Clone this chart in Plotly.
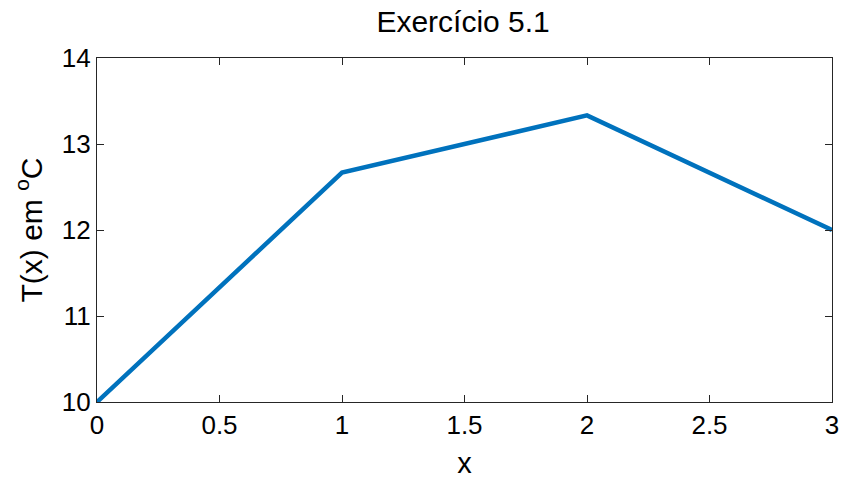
import plotly.graph_objects as go

x_vals = [0, 1, 2, 3]
t_vals = [10, 12.6667, 13.3333, 12]
x_ticks = [0, 0.5, 1, 1.5, 2, 2.5, 3]
x_tick_text = ["0", "0.5", "1", "1.5", "2", "2.5", "3"]
y_ticks = [10, 11, 12, 13, 14]

FONT = "Liberation Sans, Arial, sans-serif"

fig = go.Figure()
fig.add_trace(go.Scatter(x=x_vals, y=t_vals, mode="lines",
                         line=dict(color="#0072BD", width=4.5), showlegend=False))

axis_common = dict(showline=True, linecolor="#262626", linewidth=1.3, mirror="ticks",
                   ticks="inside", ticklen=7, tickcolor="#262626", tickwidth=1,
                   showgrid=False, zeroline=False, automargin=False,
                   tickfont=dict(family=FONT, size=26, color="#000"))

fig.update_layout(
    width=842, height=479,
    margin=dict(l=97, r=10, t=58, b=77),
    paper_bgcolor="white", plot_bgcolor="white",
    title=dict(text="Exercício 5.1", x=0.55, xanchor="center", y=0.978, yanchor="top",
               font=dict(family=FONT, size=30, color="#000"), automargin=False),
    xaxis=dict(range=[0, 3], tickvals=x_ticks, ticktext=x_tick_text,
               title=dict(text="x", font=dict(family=FONT, size=29, color="#000"), standoff=18),
               **axis_common),
    yaxis=dict(range=[10, 14], tickvals=y_ticks,
               title=dict(text="T(x) em <sup>o</sup>C", font=dict(family=FONT, size=30, color="#000"), standoff=10),
               **axis_common),
)

fig.write_html("out.html")
